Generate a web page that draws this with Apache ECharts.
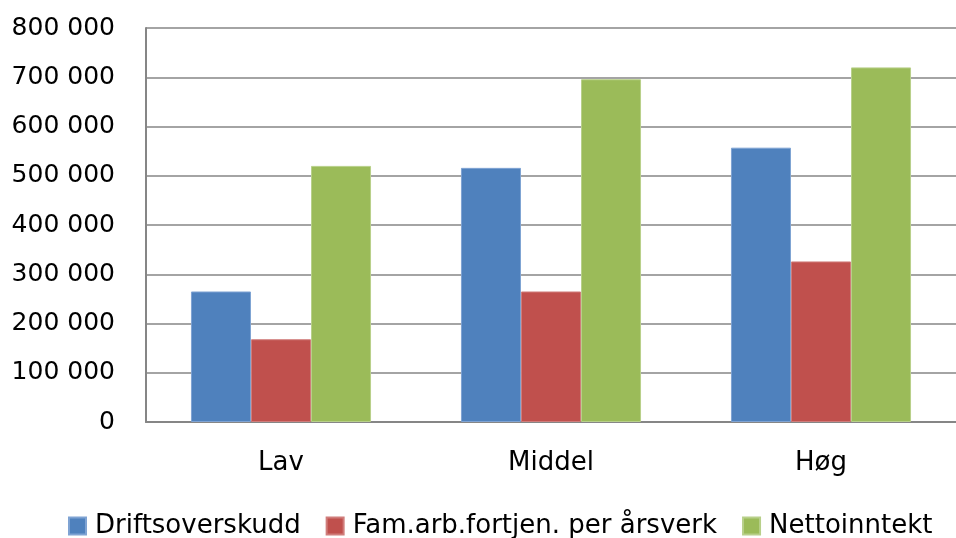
<!DOCTYPE html>
<html>
<head>
<meta charset="utf-8">
<script src="https://cdn.jsdelivr.net/npm/echarts@6/dist/echarts.min.js"></script>
<style>
  html, body { margin: 0; padding: 0; background: #fff; }
  #chart { width: 956px; height: 538px; }
</style>
</head>
<body>
<div id="chart"></div>
<script>
// data
const categories = ["Lav", "Middel", "Høg"];
const driftsoverskudd = [265000, 516000, 557000];
const famArbFortjen = [168000, 265000, 326000];
const nettoinntekt = [520000, 696000, 720000];
const seriesNames = ["Driftsoverskudd", "Fam.arb.fortjen. per årsverk", "Nettoinntekt"];

const font = "DejaVu Sans";
const axisGray = "#868686";

const chart = echarts.init(document.getElementById("chart"), null, { renderer: "canvas" });

// 800000 -> "800 000"
const fmt = (v) => String(v).replace(/\B(?=(\d{3})+(?!\d))/g, " ");

const barStyle = (color, border) => ({
  color: color,
  borderColor: border,
  borderWidth: 1
});

chart.setOption({
  animation: false,
  backgroundColor: "#fff",
  grid: { left: 146, top: 28, width: 821, bottom: 116, containLabel: false },
  legend: {
    left: 68,
    top: 513,
    padding: 0,
    itemWidth: 17,
    itemHeight: 17,
    itemGap: 25,
    icon: "rect",
    textStyle: { fontFamily: font, fontSize: 26, color: "#000", padding: [0, 0, 0, 4] },
    data: seriesNames
  },
  xAxis: {
    type: "category",
    data: categories,
    axisLine: { lineStyle: { color: axisGray, width: 2 } },
    axisTick: { show: false },
    axisLabel: { fontFamily: font, fontSize: 26, color: "#000", margin: 28 }
  },
  yAxis: {
    type: "value",
    min: 0,
    max: 800000,
    interval: 100000,
    axisLine: { show: true, lineStyle: { color: axisGray, width: 2 } },
    axisTick: { show: false },
    splitLine: { lineStyle: { color: axisGray, width: 1.5 } },
    axisLabel: { fontFamily: font, fontSize: 25, color: "#000", margin: 31, formatter: fmt }
  },
  series: [
    {
      name: seriesNames[0],
      type: "bar",
      data: driftsoverskudd,
      barGap: "0%",
      barCategoryGap: "33.3%",
      itemStyle: barStyle("#4F81BD", "#7fa3d3")
    },
    {
      name: seriesNames[1],
      type: "bar",
      data: famArbFortjen,
      itemStyle: barStyle("#C0504D", "#d07d7b")
    },
    {
      name: seriesNames[2],
      type: "bar",
      data: nettoinntekt,
      itemStyle: barStyle("#9BBB59", "#b8d08a")
    }
  ]
});
</script>
</body>
</html>
